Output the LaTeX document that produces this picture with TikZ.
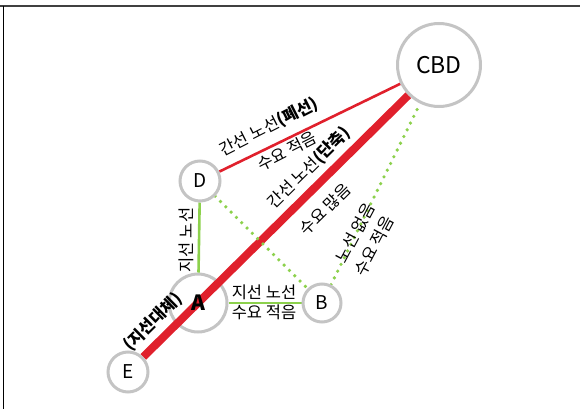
\documentclass[tikz,border=0pt]{standalone}
\usepackage{fontspec}
\setmainfont{Noto Sans CJK KR}
\usetikzlibrary{calc}
\definecolor{linered}{HTML}{E0202C}
\definecolor{linegreen}{HTML}{8CD14C}
\definecolor{ringgray}{HTML}{C4C4C4}
\pgfdeclarelayer{bg}
\pgfdeclarelayer{lines}
\pgfsetlayers{bg,lines,main}
\tikzset{
  stop/.style={circle, draw=ringgray, line width=3pt, fill=white, inner sep=0pt, font=\fontsize{19}{19}\selectfont},
  lbl/.style={font=\fontsize{16.5}{16.5}\selectfont, inner sep=0pt},
  trunk/.style={draw=linered, line width=8pt},
  trunkthin/.style={draw=linered, line width=2.6pt},
  feeder/.style={draw=linegreen, line width=2.6pt},
  feederdot/.style={draw=linegreen, line width=3.6pt, line cap=round, dash pattern=on 0pt off 7.5pt},
}
\begin{document}
\begin{tikzpicture}[x=1pt,y=-1pt]
\useasboundingbox (0,0) rectangle (580,409);
\draw[draw=black!75, line width=2pt] (0,6.5) -- (580,6.5);
\draw[draw=black, line width=1pt] (3.5,6) -- (3.5,409);

% stops
\node[stop, minimum size=83pt, font=\fontsize{23}{23}\selectfont] (CBD) at (439,65) {CBD};
\node[stop, minimum size=40pt] (D) at (200,181) {D};
\node[stop, minimum size=38pt] (B) at (322,303) {B};
\node[stop, minimum size=40pt] (E) at (128,372) {E};
\node[circle, minimum size=58pt, inner sep=0pt, font=\fontsize{21}{21}\selectfont\bfseries] (A) at (198,303) {A};
\begin{pgfonlayer}{bg}
\node[stop, minimum size=58pt] (Aring) at (A.center) {};
\end{pgfonlayer}

% connectors
\begin{pgfonlayer}{lines}
\draw[trunk] (E) -- (CBD);
\draw[trunkthin] (D) -- (CBD);
\draw[feeder] (D) -- (Aring);
\draw[feeder] (Aring) -- (B);
\draw[feederdot] (D) -- (B);
\draw[feederdot] (B) -- (CBD);
\end{pgfonlayer}

% labels
\node[lbl, rotate=27] (t1) at (269,127) {간선 노선\textbf{(폐선)}};
\node[lbl, rotate=27] (t2) at (287,151) {수요 적음};
\node[lbl, rotate=44.6] (t3) at (309,168) {간선 노선\textbf{(단축)}};
\node[lbl, rotate=44.6] (t4) at (325,209) {수요 많음};
\node[lbl, rotate=44.6] (t5) at (153,322) {\textbf{(지선대체)}};
\node[lbl, rotate=62] (t6) at (355,233) {노선 없음};
\node[lbl, rotate=62] (t7) at (374,246) {수요 적음};
\node[lbl, rotate=90] (t8) at (186,240) {지선 노선};
\node[lbl] (t9) at (264,292) {지선 노선};
\node[lbl] (t10) at (264,312) {수요 적음};
\end{tikzpicture}
\end{document}
